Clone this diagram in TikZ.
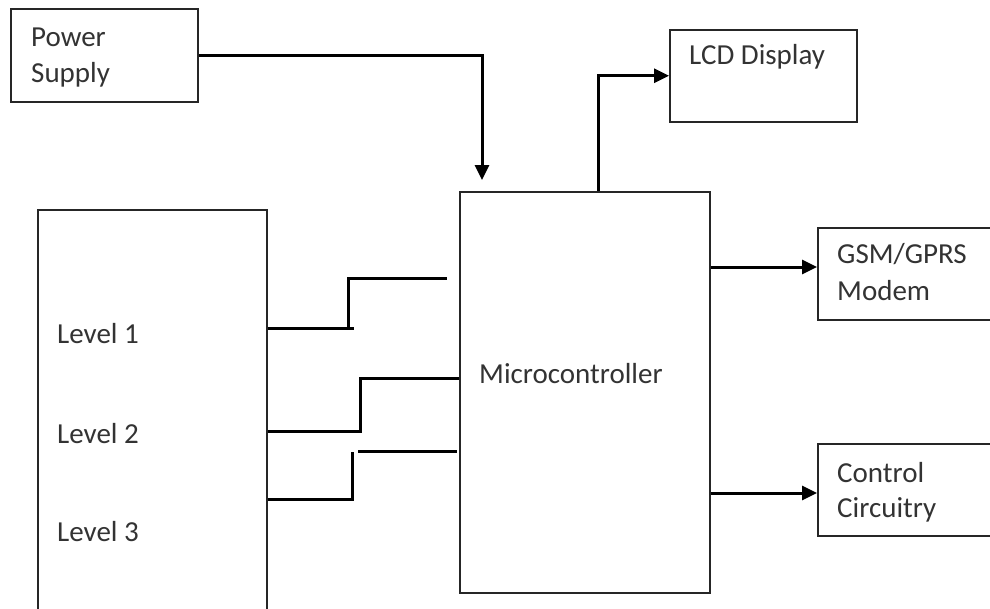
\documentclass[tikz,border=0pt]{standalone}
\usepackage{fontspec}
\setmainfont{Carlito}
\usetikzlibrary{arrows.meta}
\begin{document}
\begin{tikzpicture}[x=1pt,y=-1pt,
  box/.style={draw=black!85, line width=1.5pt, anchor=north west, inner sep=0pt},
  lbl/.style={anchor=base west, inner sep=0pt, text=black!80, font=\fontsize{29}{36}\selectfont},
  wire/.style={line width=3pt},
  arr/.style={wire, -{Triangle[length=15pt,width=14pt]}}]
\useasboundingbox (0,0) rectangle (990,608);
\fill[white] (0,0) rectangle (990,608);
% boxes
\node[box, minimum width=187pt, minimum height=93pt] (ps) at (10,8) {};
\node[box, minimum width=187pt, minimum height=92pt] (lcd) at (669,29) {};
\node[box, minimum width=250pt, minimum height=401pt] (mc) at (459,191) {};
\node[box, minimum width=229pt, minimum height=405pt] (lev) at (37,209) {};
\node[box, minimum width=180pt, minimum height=92pt] (gsm) at (817,227) {};
\node[box, minimum width=180pt, minimum height=92pt] (ctl) at (817,443) {};
% labels
\node[lbl] (tps1) at (31,46) {Power};
\node[lbl] (tps2) at (31,82) {Supply};
\node[lbl] (tlcd) at (689,64) {LCD Display};
\node[lbl] (tmc) at (479,383) {Microcontroller};
\node[lbl] (tg1) at (837,263) {GSM/GPRS};
\node[lbl] (tg2) at (837,300) {Modem};
\node[lbl] (tc1) at (837,482) {Control};
\node[lbl] (tc2) at (837,517) {Circuitry};
\node[lbl] (tl1) at (57,343) {Level 1};
\node[lbl] (tl2) at (57,443) {Level 2};
\node[lbl] (tl3) at (57,541) {Level 3};
% helper coordinates
\coordinate (pin) at (482,180);
\coordinate (lcdx) at (598,0);
\coordinate (gy) at (0,267);
\coordinate (cy) at (0,493);
\coordinate (y1a) at (0,328);
\coordinate (a1e) at (354,328);
\coordinate (a1s) at (348,329.5);
\coordinate (a1b) at (348,278);
\coordinate (a1t) at (447,278);
\coordinate (a2s) at (268,431);
\coordinate (a2b) at (360,431);
\coordinate (a2c) at (360,378);
\coordinate (y2t) at (0,378);
\coordinate (y3a) at (0,499);
\coordinate (a3b) at (352,499);
\coordinate (a3c) at (352,452);
\coordinate (a3s) at (358,451);
\coordinate (a3e) at (457,451);
% connectors
\draw[arr] (ps.east) -| (pin);
\draw[arr] (mc.north -| lcdx) |- (lcd.west);
\draw[arr] (mc.east |- gy) -- (gsm.west |- gy);
\draw[arr] (mc.east |- cy) -- (ctl.west |- cy);
\draw[wire] (lev.east |- y1a) -- (a1e);
\draw[wire] (a1s) -- (a1b) -- (a1t);
\draw[wire] (a2s) -- (a2b) -- (a2c) -- (mc.west |- y2t);
\draw[wire] (lev.east |- y3a) -- (a3b) -- (a3c);
\draw[wire] (a3s) -- (a3e);
\end{tikzpicture}
\end{document}
